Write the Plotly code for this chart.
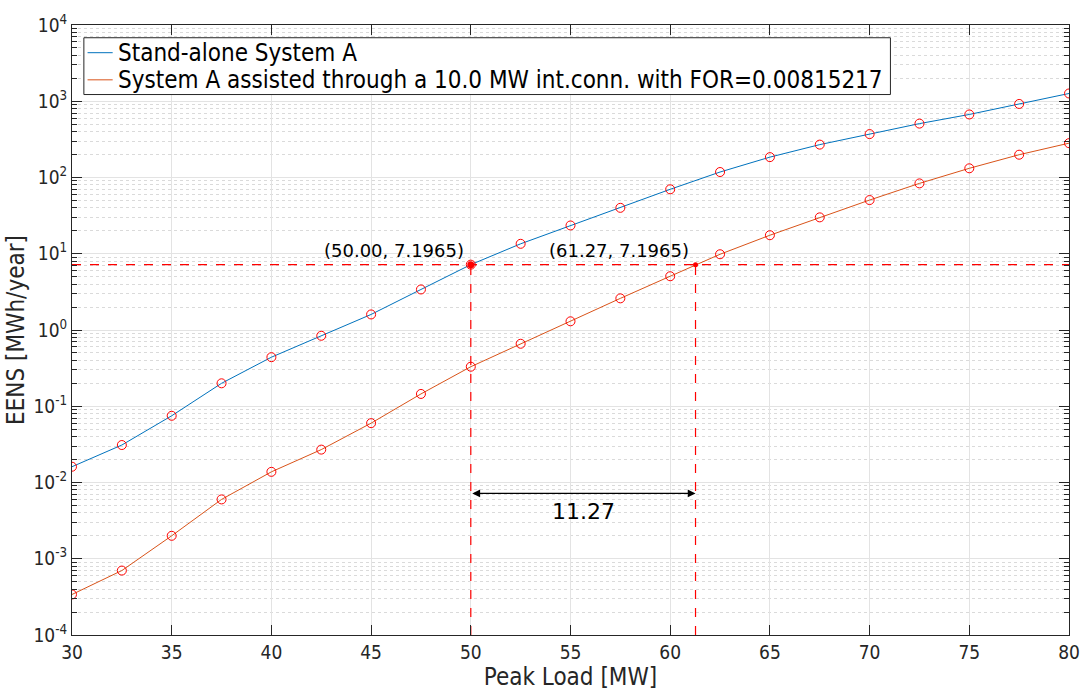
import plotly.graph_objects as go
import numpy as np

peak_load = [30, 32.5, 35, 37.5, 40, 42.5, 45, 47.5, 50, 52.5, 55, 57.5, 60,
             62.5, 65, 67.5, 70, 72.5, 75, 77.5, 80]
eens_standalone = [0.0161, 0.031, 0.075, 0.2, 0.44, 0.84, 1.6, 3.4, 7.1965, 13.5,
                   23.5, 40, 70, 118, 185, 270, 371, 509, 671, 922, 1265]
eens_assisted = [0.00034, 0.0007, 0.002, 0.006, 0.0138, 0.027, 0.06, 0.145, 0.33,
                 0.66, 1.3, 2.6, 5.07, 9.85, 17.5, 30, 50.6, 83.7, 132, 199, 282]

series_names = ["Stand-alone System A",
                "System A assisted through a 10.0 MW int.conn. with FOR=0.00815217"]
series_colors = ["#0072BD", "#D95319"]

target_eens = 7.1965
load_a = 50.00
load_b = 61.27
gain_label = "11.27"
arrow_level = 7.1965e-3
text_level = 4.2e-3

x_ticks = [30, 35, 40, 45, 50, 55, 60, 65, 70, 75, 80]
y_exps = [-4, -3, -2, -1, 0, 1, 2, 3, 4]

AX = "#262626"
FONT = "DejaVu Sans Condensed"

fig = go.Figure()

for ys, nm, col in zip((eens_standalone, eens_assisted), series_names, series_colors):
    fig.add_trace(go.Scatter(x=peak_load, y=ys, mode="lines", name=nm,
                             line=dict(color=col, width=1), showlegend=False))
for ys in (eens_standalone, eens_assisted):
    fig.add_trace(go.Scatter(x=peak_load, y=ys, mode="markers", showlegend=False,
                             marker=dict(symbol="circle-open", size=9, color="#FF0000",
                                         line=dict(width=1, color="#FF0000"))))

dash = dict(color="#FF0000", width=1.2, dash="dash")
fig.add_trace(go.Scatter(x=[30, 80], y=[target_eens, target_eens], mode="lines",
                         line=dash, showlegend=False))
fig.add_trace(go.Scatter(x=[load_a, load_a], y=[1e-4, target_eens], mode="lines",
                         line=dash, showlegend=False))
fig.add_trace(go.Scatter(x=[load_b, load_b], y=[1e-4, target_eens], mode="lines",
                         line=dash, showlegend=False))
fig.add_trace(go.Scatter(x=[load_a], y=[target_eens], mode="markers", showlegend=False,
                         marker=dict(size=7, color="#FF0000")))
fig.add_trace(go.Scatter(x=[load_b], y=[target_eens], mode="markers", showlegend=False,
                         marker=dict(size=5, color="#FF0000")))

for lx in (load_a, load_b):
    fig.add_annotation(x=lx, y=np.log10(target_eens), xref="x", yref="y",
                       text=f"({lx:.2f}, {target_eens:.4f})", showarrow=False,
                       xanchor="right", yanchor="bottom", xshift=-5, yshift=2,
                       font=dict(family="DejaVu Sans", size=18, color="#000000"))
fig.add_annotation(x=load_b, y=np.log10(arrow_level), ax=load_a, ay=np.log10(arrow_level),
                   xref="x", yref="y", axref="x", ayref="y", text="",
                   showarrow=True, arrowhead=2, arrowside="end+start",
                   arrowsize=1.3, arrowwidth=1.2, arrowcolor="#000000")
fig.add_annotation(x=(load_a + load_b) / 2, y=np.log10(text_level), xref="x", yref="y",
                   text=gain_label, showarrow=False,
                   font=dict(family="DejaVu Sans", size=22, color="#000000"))

# legend box (drawn manually to match the compact MATLAB legend)
fig.add_shape(type="rect", xref="paper", yref="paper", x0=0.0119, x1=0.8209,
              y0=0.886, y1=0.9791, line=dict(color=AX, width=1), fillcolor="white",
              layer="above")
for i, (nm, col) in enumerate(zip(series_names, series_colors)):
    yy = [0.9546, 0.9101][i]
    fig.add_shape(type="line", xref="paper", yref="paper", x0=0.0156, x1=0.0408,
                  y0=yy, y1=yy, line=dict(color=col, width=1), layer="above")
    fig.add_annotation(x=0.0438, y=yy, xref="paper", yref="paper", text=nm,
                       showarrow=False, xanchor="left", yanchor="middle",
                       font=dict(family=FONT, size=24, color="#000000"))

minor_vals = [m * 10.0 ** e for e in y_exps[:-1] for m in range(2, 10)]

fig.update_xaxes(range=[30, 80], tickmode="array", tickvals=x_ticks,
                 ticks="inside", ticklen=10, tickcolor=AX, mirror="allticks",
                 showline=True, linecolor=AX, linewidth=1,
                 showgrid=True, gridcolor="#e3e3e3", gridwidth=1, zeroline=False,
                 tickfont=dict(family=FONT, size=19, color=AX),
                 title=dict(text="Peak Load [MW]", font=dict(family=FONT, size=24, color=AX),
                            standoff=4))
fig.update_yaxes(type="log", range=[-4, 4], tickmode="array",
                 tickvals=[10.0 ** e for e in y_exps],
                 ticktext=[f"10<sup>{e}</sup>" for e in y_exps],
                 ticks="inside", ticklen=10, tickcolor=AX, mirror="allticks",
                 showline=True, linecolor=AX, linewidth=1,
                 showgrid=True, gridcolor="#e3e3e3", gridwidth=1, zeroline=False,
                 minor=dict(tickmode="array", tickvals=minor_vals, ticks="inside",
                            ticklen=5, tickcolor=AX, showgrid=True,
                            gridcolor="#dadada", griddash="dot", gridwidth=1),
                 tickfont=dict(family=FONT, size=19, color=AX),
                 title=dict(text="EENS [MWh/year]", font=dict(family=FONT, size=24, color=AX),
                            standoff=2))

fig.update_layout(width=1092, height=696, autosize=False,
                  margin=dict(l=72, r=15, t=15, b=58),
                  plot_bgcolor="white", paper_bgcolor="white", showlegend=False)

fig.write_html("out.html")
